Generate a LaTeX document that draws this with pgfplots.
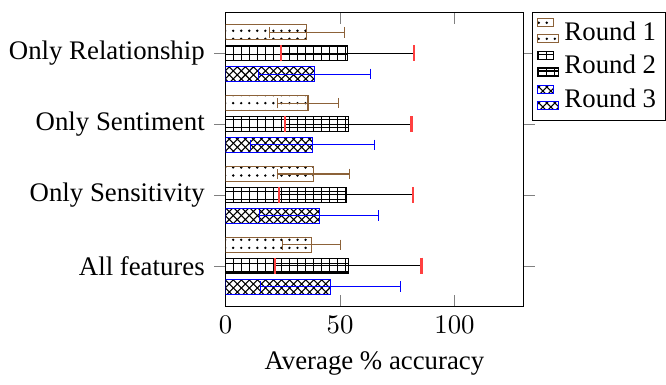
\documentclass[border=0pt]{standalone}
\usepackage{pgfplots}
\pgfplotsset{compat=1.18}
\usepackage{fontspec}
\setmainfont{Liberation Serif}
\usetikzlibrary{patterns}
\definecolor{rbrown}{RGB}{140,98,57}
\begin{document}
\begin{tikzpicture}
\begin{axis}[
  scale only axis,
  width=111pt, height=110pt,
  xbar=2.1pt, bar width=5.7pt,
  xmin=0, xmax=130,
  ymin=-0.58, ymax=3.58,
  ytick={0,1,2,3},
  yticklabels={All features, Only Sensitivity, Only Sentiment, Only Relationship},
  xtick={0,50,100},
  ytick align=outside,
  xtick align=inside,
  tick style={gray},
  xlabel={Average \% accuracy},
  legend style={at={(1.03,1)}, anchor=north west, draw=black, inner sep=1.5pt},
  legend cell align=left,
  reverse legend,
]
\addplot[draw=blue, pattern=crosshatch, pattern color=black,
  error bars/.cd, x dir=both, x explicit,
  error bar style={blue}]
  coordinates {
  (45.9,0) +- (30.5,0)
  (40.9,1) +- (26.0,0)
  (38.0,2) +- (27.0,0)
  (38.9,3) +- (24.6,0)
  };
\addplot[draw=black, pattern=grid, pattern color=black,
  error bars/.cd, x dir=both, x explicit,
  error bar style={black}, error mark options={red!75, rotate=90, mark size=3pt, line width=0.8pt}]
  coordinates {
  (53.6,0) +- (32.0,0)
  (52.6,1) +- (29.4,0)
  (53.6,2) +- (27.6,0)
  (53.3,3) +- (29.0,0)
  };
\addplot[draw=rbrown, pattern=dots, pattern color=black,
  error bars/.cd, x dir=both, x explicit,
  error bar style={rbrown}]
  coordinates {
  (37.4,0) +- (12.7,0)
  (38.3,1) +- (15.8,0)
  (36.0,2) +- (13.5,0)
  (35.5,3) +- (16.5,0)
  };
\legend{Round 3, Round 2, Round 1}
\end{axis}
\path ([yshift=4.5pt]current axis.north);
\end{tikzpicture}
\end{document}
